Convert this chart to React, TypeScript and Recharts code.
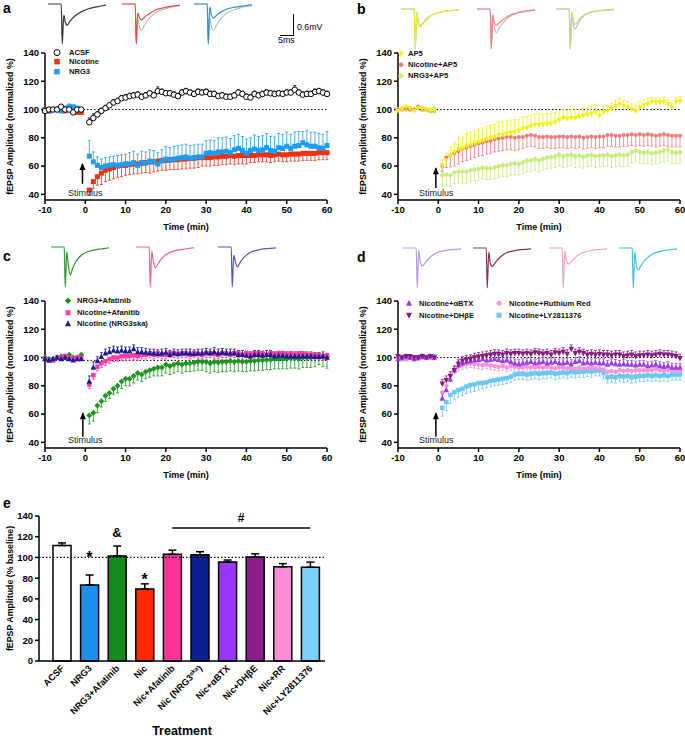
import React from 'react'
import {
  ComposedChart,
  Scatter,
  ErrorBar,
  XAxis,
  YAxis,
  ReferenceLine,
  ReferenceDot,
  BarChart,
  Bar,
  Cell,
  LineChart,
  Line,
} from 'recharts'

const FONT = '"Liberation Sans", Arial, Helvetica, sans-serif'

// sweep times (min): 10 baseline sweeps, then 60 after the stimulus
const TIMES = [
  -10, -9, -8, -7, -6, -5, -4, -3, -2, -1,
  1, 2, 3, 4, 5, 6, 7, 8, 9, 10,
  11, 12, 13, 14, 15, 16, 17, 18, 19, 20,
  21, 22, 23, 24, 25, 26, 27, 28, 29, 30,
  31, 32, 33, 34, 35, 36, 37, 38, 39, 40,
  41, 42, 43, 44, 45, 46, 47, 48, 49, 50,
  51, 52, 53, 54, 55, 56, 57, 58, 59, 60,
]
const TIME_TICKS = [-10, 0, 10, 20, 30, 40, 50, 60]
const AMP_TICKS = [40, 60, 80, 100, 120, 140]

// ---- panel a
const ACSF_Y = [
  99, 100, 100, 100, 102, 100, 100, 98, 100, 100,
  91, 94, 96.5, 99, 101, 103, 105, 106, 108, 108.5,
  109.5, 110, 110.5, 109, 110, 111.5, 110, 113, 112.5, 111.5,
  111.5, 110.5, 109.5, 112, 113, 112, 111, 112.5, 112, 112.5,
  111, 111, 109.5, 110, 109, 109, 110, 112, 111, 109,
  108.5, 111, 110, 111, 112, 111.5, 111, 111.5, 111, 112,
  112, 114, 112, 110.5, 111, 111, 112.5, 113, 112, 111,
]
const ACSF_E = [
  1, 1, 1, 1, 1, 1, 1, 1, 1, 1,
  3, 3, 2, 2, 2, 2, 2, 2, 2, 2,
  2, 2, 2, 2, 2, 2, 2, 3, 2, 2,
  2, 2, 2, 2, 2, 2, 2, 2, 2, 2,
  2, 2, 2, 2, 2, 2, 2, 2, 2, 2,
  2, 2, 2, 2, 2, 2, 2, 2, 2, 2,
  2, 3, 2, 2, 2, 2, 2, 2, 2, 2,
]
const NIC_Y = [
  100, 99, 100, 100, 100, 99, 100, 99, 98, 98,
  43, 49, 52.5, 55, 57, 58, 59, 60, 60.5, 60.5,
  61, 61.5, 61.5, 62, 62.5, 63, 63, 63.5, 64, 64,
  64.5, 64.5, 64.5, 65, 65, 65.5, 65.5, 66, 66, 66,
  66, 66.5, 66.5, 67, 67, 67.5, 67, 67.5, 67.5, 67.5,
  67.5, 67.5, 68, 68, 68, 67.5, 68, 68.5, 68, 68,
  68.5, 68.5, 68.5, 69, 69, 69, 69, 69.5, 69.5, 69.5,
]
const NIC_E = [
  1, 1, 1, 1, 1, 1, 1, 1, 1, 1,
  3, 5, 6, 8, 8, 8, 8, 8, 8, 7,
  7, 7, 7, 7, 7, 8, 7, 7, 7, 7,
  7, 7, 7, 7, 7, 7, 7, 7, 6, 6,
  6, 6, 6, 6, 6, 6, 6, 6, 6, 6,
  5, 5, 5, 5, 5, 5, 5, 5, 5, 5,
  5, 5, 5, 5, 5, 5, 5, 5, 5, 5,
]
const NRG3_Y = [
  99, 99, 100, 100, 99, 101, 102, 102, 101, 100,
  67, 63, 60.5, 59, 60, 60.5, 61, 60.5, 61, 61.5,
  61.5, 62.5, 60.5, 62.5, 62, 63.5, 63, 61.5, 63.5, 65,
  64, 65, 65.5, 66, 66.5, 65.5, 66, 66.5, 66.5, 69,
  69.5, 69, 70, 70, 70.5, 69.5, 71.5, 72.5, 71, 69,
  71, 72, 71, 71.5, 73, 71, 70.5, 73, 72.5, 74,
  72.5, 74, 74.5, 76.5, 75, 74, 74, 73, 72.5, 74.5,
]
const NRG3_E = [
  1, 1, 1, 2, 1, 1, 2, 1, 1, 1,
  11, 7, 6, 6, 6, 6, 6, 7, 7, 7,
  8, 8, 8, 8, 8, 8, 8, 8, 8, 9,
  9, 9, 9, 9, 9, 9, 9, 9, 9, 9,
  9, 9, 10, 10, 10, 10, 10, 10, 10, 10,
  9, 10, 10, 10, 10, 10, 10, 10, 10, 10,
  10, 10, 10, 8, 10, 10, 10, 10, 10, 10,
]

// ---- panel b
const AP5_Y = [
  99, 100, 102, 101, 99, 101, 101, 100, 99, 99,
  60.5, 64, 67.5, 70, 72, 72.5, 74, 75, 76, 77,
  78, 79, 80, 80.5, 82, 82, 83, 83.5, 84, 85,
  86.5, 87, 88, 89, 89, 89.5, 90, 90, 91, 92.5,
  94, 93.5, 94, 94, 95, 96, 96.5, 97, 98, 95.5,
  98, 99, 100.5, 102.5, 104, 102.5, 101.5, 100, 99, 101.5,
  103, 104, 105.5, 105, 105, 105.5, 104, 101.5, 105.5, 106,
]
const AP5_E = [
  1, 1, 1, 1, 1, 1, 1, 1, 1, 1,
  4, 5, 6, 7, 8, 8, 9, 9, 9, 9,
  9, 9, 9, 9, 9, 9, 9, 9, 9, 8,
  8, 8, 8, 8, 8, 7, 7, 7, 7, 6,
  6, 6, 6, 6, 5, 5, 5, 5, 5, 4,
  4, 4, 4, 4, 4, 4, 4, 4, 4, 4,
  4, 4, 3, 3, 3, 3, 3, 3, 3, 3,
]
const NICAP5_Y = [
  100, 100, 101, 100, 100, 102, 100, 100, 99, 99,
  60, 66, 67.5, 69, 70.5, 72, 73, 74, 75, 76,
  76.5, 77.5, 78, 79, 79.5, 80, 80.5, 80.5, 80, 80.5,
  80.5, 81.5, 82, 81.5, 80.5, 80.5, 81, 80.5, 80.5, 81,
  81, 80.5, 81, 80.5, 81, 80, 80.5, 81, 80.5, 81,
  81, 82, 82, 81.5, 81.5, 82, 82, 82.5, 82, 82.5,
  82, 82.5, 82, 81.5, 82, 82.5, 82, 81.5, 81.5, 81.5,
]
const NICAP5_E = [
  1, 1, 1, 1, 1, 1, 1, 1, 1, 1,
  4, 7, 8, 9, 9, 9, 9, 9, 9, 9,
  9, 9, 9, 9, 9, 9, 9, 9, 9, 9,
  8, 8, 8, 8, 8, 8, 8, 8, 8, 8,
  8, 8, 8, 8, 8, 8, 8, 8, 8, 8,
  8, 8, 8, 8, 8, 8, 8, 8, 8, 8,
  8, 8, 8, 8, 8, 8, 8, 8, 8, 8,
]
const NRGAP5_Y = [
  100, 101, 100, 101, 100, 102, 101, 100, 100, 101,
  53.5, 54, 53.5, 55.5, 56, 56, 56, 57, 57.5, 58,
  59, 58.5, 58.5, 59, 60, 60.5, 60.5, 61.5, 62, 61.5,
  62.5, 64, 64, 65, 64, 65, 66, 66.5, 67, 68,
  67, 67.5, 68, 67, 67.5, 66.5, 67.5, 68, 67, 67.5,
  67.5, 68, 67, 67.5, 68, 67.5, 68, 70, 71, 70,
  69.5, 70, 69, 69.5, 70, 71, 71.5, 70, 69.5, 70,
]
const NRGAP5_E = [
  1, 1, 1, 1, 1, 1, 1, 1, 1, 1,
  8, 8, 8, 8, 8, 8, 8, 8, 8, 8,
  8, 8, 8, 8, 8, 8, 8, 8, 8, 8,
  8, 8, 8, 8, 8, 8, 8, 8, 8, 8,
  8, 8, 8, 8, 8, 8, 8, 8, 8, 8,
  8, 8, 8, 8, 8, 8, 8, 8, 8, 8,
  8, 8, 8, 8, 8, 8, 8, 8, 8, 8,
]

// ---- panel c
const NRGAF_Y = [
  100, 99, 99, 100, 101, 100, 102, 100, 100, 102,
  59, 61, 66, 69, 73, 75, 78, 80, 83, 85,
  85, 87, 89, 88, 90, 91, 92, 93, 93, 95,
  94, 95, 96, 95, 96, 96, 96.5, 97, 97, 97,
  96, 97, 96.5, 97, 97, 97.5, 97, 97.5, 97, 97,
  97.5, 97.5, 98, 98, 98.5, 98.5, 99, 99, 99, 99,
  99.5, 99.5, 99, 100, 100, 100, 100.5, 102, 100.5, 100.5,
]
const NRGAF_E = [
  1, 1, 1, 1, 1, 1, 1, 1, 1, 1,
  6, 6, 5, 4, 4, 4, 4, 5, 5, 5,
  5, 5, 5, 5, 5, 5, 5, 6, 6, 6,
  6, 6, 6, 6, 6, 6, 6, 6, 6, 7,
  7, 7, 7, 7, 7, 7, 7, 7, 7, 7,
  7, 7, 7, 7, 7, 7, 7, 7, 7, 7,
  7, 7, 7, 7, 7, 7, 7, 7, 7, 8,
]
const NICAF_Y = [
  99, 98, 98, 100, 100, 101, 100, 99, 100, 100,
  81, 87.5, 93.5, 96, 97.5, 99, 100, 100, 101, 101,
  101, 101.5, 101, 102, 102, 103, 102, 103, 102, 102,
  103, 103, 102.5, 103, 103, 102, 103, 102.5, 102, 103,
  103, 102.5, 102, 103, 103, 102, 103, 103, 102, 103,
  102.5, 103, 103, 103, 102, 103, 102.5, 103, 103, 102,
  103, 102, 103, 103, 102, 102, 102, 101.5, 101, 101.5,
]
const NICAF_E = [
  1, 1, 1, 1, 1, 1, 1, 1, 1, 1,
  3, 3, 3, 3, 3, 3, 3, 3, 3, 3,
  3, 3, 3, 3, 3, 3, 3, 3, 3, 3,
  3, 3, 3, 3, 3, 3, 3, 3, 3, 3,
  3, 3, 3, 3, 3, 3, 3, 3, 3, 3,
  3, 3, 3, 3, 3, 3, 3, 3, 3, 3,
  3, 3, 3, 3, 3, 3, 3, 3, 3, 3,
]
const NICSKA_Y = [
  99, 98, 99, 100, 99, 100, 99, 98, 99, 99,
  83, 93, 97.5, 100.5, 103, 104, 105, 104.5, 105, 104.5,
  104.5, 106, 104, 104, 103.5, 103, 103, 102.5, 103, 103.5,
  102, 103, 102.5, 103, 103, 103, 102.5, 103, 103, 103.5,
  103, 104, 103, 103.5, 103, 103, 103, 102, 102, 101.5,
  101, 102, 102, 101.5, 102, 102, 101, 101.5, 101.5, 101,
  101, 101, 101, 101, 101, 101, 100.5, 100.5, 101, 100,
]
const NICSKA_E = [
  1, 1, 1, 1, 1, 1, 1, 1, 1, 1,
  4, 4, 3, 3, 3, 3, 3, 3, 3, 3,
  3, 3, 3, 3, 3, 3, 3, 3, 3, 3,
  3, 3, 3, 3, 3, 3, 3, 3, 3, 3,
  3, 3, 3, 3, 3, 3, 3, 3, 3, 3,
  3, 3, 3, 3, 3, 3, 3, 3, 3, 3,
  3, 3, 3, 3, 3, 3, 3, 3, 3, 3,
]

// ---- panel d
const ABTX_Y = [
  99, 100, 101, 100, 99, 100, 101, 100, 101, 100,
  71, 77, 84.5, 91, 94.5, 96, 97, 97.5, 98, 98.5,
  99, 98, 98.5, 99, 98.5, 97.5, 98, 97, 96, 95.5,
  96, 96.5, 97, 96, 96.5, 97, 96, 96.5, 97, 96,
  96, 96.5, 95.5, 97, 97.5, 96, 96.5, 96, 96.5, 96,
  96, 95, 96, 95.5, 95, 95.5, 95, 95, 94.5, 95,
  95, 94, 94.5, 95, 94, 93.5, 94, 93, 93, 93,
]
const ABTX_E = [
  1, 1, 1, 1, 1, 1, 1, 1, 1, 1,
  3, 3, 3, 3, 3, 3, 3, 3, 3, 3,
  3, 3, 3, 3, 3, 3, 3, 3, 3, 3,
  3, 3, 3, 3, 3, 3, 3, 3, 3, 3,
  3, 3, 3, 3, 3, 3, 3, 3, 3, 3,
  3, 3, 3, 3, 3, 3, 3, 3, 3, 3,
  3, 3, 3, 3, 3, 3, 3, 3, 3, 3,
]
const DHBE_Y = [
  101, 100, 101, 101, 100, 100, 101, 100, 101, 100,
  81.5, 84, 87, 91, 95.5, 97.5, 98.5, 99, 100, 100.5,
  101, 101.5, 102, 102.5, 102.5, 102, 103, 102.5, 103, 103,
  102.5, 103, 102.5, 103.5, 103, 102.5, 103, 102, 103.5, 103,
  104, 102.5, 106, 103, 104, 103, 102, 102.5, 102, 102.5,
  102, 102, 101.5, 102, 102, 101, 101.5, 102, 101, 101.5,
  101.5, 102, 101.5, 102, 102.5, 102, 102, 101.5, 101, 99.5,
]
const DHBE_E = [
  1, 1, 1, 1, 1, 1, 1, 1, 1, 1,
  3, 3, 3, 3, 3, 3, 3, 3, 3, 3,
  3, 3, 3, 3, 3, 3, 3, 3, 3, 3,
  3, 3, 3, 3, 3, 3, 3, 3, 3, 3,
  3, 3, 3, 3, 3, 3, 3, 3, 3, 3,
  3, 3, 3, 3, 3, 3, 3, 3, 3, 3,
  3, 3, 3, 3, 3, 3, 3, 3, 3, 3,
]
const RR_Y = [
  100, 100, 99, 100, 100, 99, 100, 100, 100, 100,
  75.5, 80, 87.5, 91.5, 93.5, 94.5, 95.5, 96, 95.5, 95,
  94.5, 95, 94.5, 94, 93.5, 94, 93, 94, 93.5, 93,
  93, 93.5, 93, 93, 93.5, 93, 93.5, 93, 92.5, 93,
  93, 92.5, 93, 92, 93, 92, 92.5, 93, 92.5, 92.5,
  91.5, 90, 90.5, 90, 91, 90.5, 91, 90.5, 91, 91,
  91, 91, 91, 92, 91, 90.5, 91, 91, 91, 91,
]
const RR_E = [
  1, 1, 1, 1, 1, 1, 1, 1, 1, 1,
  3, 3, 3, 3, 3, 3, 3, 3, 3, 3,
  3, 3, 3, 3, 3, 3, 3, 3, 3, 3,
  3, 3, 3, 3, 3, 3, 3, 3, 3, 3,
  3, 3, 3, 3, 3, 3, 3, 3, 3, 3,
  3, 3, 3, 3, 3, 3, 3, 3, 3, 3,
  3, 3, 3, 3, 3, 3, 3, 3, 3, 3,
]
const LY_Y = [
  100, 99, 99, 100, 100, 100, 101, 100, 100, 101,
  64.5, 68.5, 73.5, 75.5, 77, 78, 79.5, 80.5, 81, 82,
  82, 82.5, 83.5, 84, 84.5, 85, 85.5, 86.5, 88, 88.5,
  88.5, 88, 88.5, 89, 88.5, 89, 89, 89.5, 88.5, 89,
  89.5, 89, 90, 89.5, 90, 90, 90.5, 90, 91, 91,
  89, 86, 86.5, 86, 87, 86.5, 87, 86, 86.5, 87,
  87, 87.5, 87, 87.5, 87, 87.5, 87, 88, 88, 88,
]
const LY_E = [
  1, 1, 1, 1, 1, 1, 1, 1, 1, 1,
  6, 6, 6, 5, 5, 5, 5, 5, 5, 5,
  4, 4, 4, 4, 4, 4, 4, 4, 4, 4,
  4, 4, 4, 4, 4, 4, 4, 4, 4, 4,
  4, 4, 4, 4, 4, 4, 4, 4, 4, 4,
  4, 4, 4, 4, 4, 4, 4, 4, 4, 4,
  4, 4, 4, 4, 4, 4, 4, 4, 4, 4,
]

// ---- panel e
const TREATMENTS = [
  'ACSF', 'NRG3', 'NRG3+Afatinib', 'Nic', 'Nic+Afatinib',
  'Nic (NRG3ska)', 'Nic+αBTX', 'Nic+DHβE', 'Nic+RR', 'Nic+LY2811376',
]
const TREAT_MEAN = [111.5, 73.5, 101.5, 69.5, 103, 102.5, 95.5, 100.5, 91, 90.5]
const TREAT_SEM = [2.5, 9.5, 9.5, 5, 4, 3, 2, 3, 3, 5]
const TREAT_COLORS = [
  '#ffffff', '#1e90f0', '#138a1c', '#ff2a00', '#ff3399',
  '#0c2090', '#9a36ff', '#8c1d8c', '#ff8ad8', '#7acffc',
]
const BAR_TICKS = [0, 20, 40, 60, 80, 100, 120, 140]

// ---- example sweeps (ms-ish time base, amplitude normalised to the artefact)
const WAVE_T = [0, 13, 14, 15.5, 17, 19, 21, 24, 28, 33, 40, 48, 57]
const W_CTRL = [0, 0, -1, -0.35, -0.55, -0.66, -0.58, -0.45, -0.32, -0.22, -0.14, -0.08, -0.04]
const W_ACSF = [0, 0, -1, -0.28, -0.45, -0.53, -0.45, -0.36, -0.27, -0.19, -0.12, -0.07, -0.03]
const W_NIC = [0, 0, -1, -0.22, -0.33, -0.4, -0.36, -0.29, -0.22, -0.15, -0.1, -0.06, -0.03]
const W_NRG3 = [0, 0, -1, -0.08, -0.26, -0.35, -0.31, -0.24, -0.18, -0.12, -0.08, -0.05, -0.02]
const W_AP5 = [0, 0, -1, -0.1, -0.36, -0.45, -0.39, -0.3, -0.2, -0.12, -0.07, -0.04, -0.02]
const W_AP5_CTRL = [0, 0, -1, -0.08, -0.33, -0.42, -0.37, -0.28, -0.19, -0.12, -0.07, -0.04, -0.02]
const W_NICAP5 = [0, 0, -1, -0.14, -0.34, -0.41, -0.37, -0.3, -0.22, -0.15, -0.09, -0.05, -0.02]
const W_NICAP5_CTRL = [0, 0, -1, -0.2, -0.45, -0.6, -0.52, -0.4, -0.28, -0.18, -0.1, -0.06, -0.03]
const W_NRGAP5 = [0, 0, -1, -0.08, -0.3, -0.38, -0.32, -0.22, -0.14, -0.08, -0.05, -0.03, -0.01]
const W_NRGAP5_CTRL = [0, 0, -1, -0.1, -0.38, -0.5, -0.4, -0.26, -0.16, -0.09, -0.05, -0.03, -0.01]
const W_NRGAF = [0, 0, -1, -0.12, -0.45, -0.7, -0.55, -0.38, -0.25, -0.15, -0.09, -0.05, -0.02]
const W_NICAF = [0, 0, -1, -0.1, -0.35, -0.52, -0.45, -0.33, -0.22, -0.14, -0.08, -0.05, -0.02]
const W_NICSKA = [0, 0, -1, -0.2, -0.36, -0.5, -0.42, -0.3, -0.2, -0.12, -0.07, -0.04, -0.02]
const W_ABTX = [0, 0, -1, -0.05, -0.35, -0.45, -0.4, -0.3, -0.2, -0.12, -0.07, -0.04, -0.02]
const W_DHBE = [0, 0, -1, -0.1, -0.38, -0.46, -0.4, -0.3, -0.2, -0.12, -0.07, -0.04, -0.02]
const W_RR = [0, 0, -1, -0.08, -0.32, -0.4, -0.36, -0.28, -0.19, -0.12, -0.07, -0.04, -0.02]
const W_LY = [0, 0, -1, -0.1, -0.42, -0.55, -0.47, -0.35, -0.24, -0.15, -0.09, -0.05, -0.02]

type Kind = 'open' | 'circle' | 'square' | 'up' | 'down' | 'diamond'
type Series = {
  name: string
  ys: number[]
  errs: number[]
  up: boolean
  kind: Kind
  color: string
  size: number
}

const glyph = (kind: Kind, color: string, cx: number, cy: number, s: number) => {
  const h = s / 2
  if (kind === 'open') return <circle cx={cx} cy={cy} r={h} fill="#fff" stroke="#000" strokeWidth={1} />
  if (kind === 'circle') return <circle cx={cx} cy={cy} r={h} fill={color} />
  if (kind === 'square') return <rect x={cx - h} y={cy - h} width={s} height={s} fill={color} />
  if (kind === 'up')
    return <polygon points={`${cx},${cy - h - 1} ${cx + h + 0.5},${cy + h} ${cx - h - 0.5},${cy + h}`} fill={color} />
  if (kind === 'down')
    return <polygon points={`${cx},${cy + h + 1} ${cx + h + 0.5},${cy - h} ${cx - h - 0.5},${cy - h}`} fill={color} />
  return <polygon points={`${cx},${cy - h - 1} ${cx + h + 1},${cy} ${cx},${cy + h + 1} ${cx - h - 1},${cy}`} fill={color} />
}

const rows = (s: Series) =>
  TIMES.map((t, i) => ({ t, y: s.ys[i], e: s.up ? [0, s.errs[i]] : [s.errs[i], 0] }))

const tickStyle = { fill: '#000', fontSize: 9.5, fontWeight: 700, fontFamily: FONT }

const yTitle = (text: string) => (p: any) => {
  const vb = p.viewBox || {}
  const cy = (vb.y || 0) + (vb.height || 0) / 2
  return (
    <text
      x={10}
      y={cy}
      transform={`rotate(-90 10 ${cy})`}
      textAnchor="middle"
      dominantBaseline="central"
      fontSize={8.8}
      fontWeight={700}
      fontFamily={FONT}
      fill="#000"
    >
      {text}
    </text>
  )
}

type Arrow = { x: number; y0: number; y1: number; textX: number; textY: number }

function TimePanel({
  left,
  top,
  series,
  refY,
  arrow,
}: {
  left: number
  top: number
  series: Series[]
  refY: number
  arrow: Arrow
}) {
  return (
    <div style={{ position: 'absolute', left, top }}>
      <ComposedChart width={337} height={194} margin={{ top: 13, right: 10, bottom: 0, left: 0 }}>
        <XAxis
          dataKey="t"
          type="number"
          domain={[-10, 60]}
          ticks={TIME_TICKS}
          tickSize={4}
          stroke="#000"
          strokeWidth={1.5}
          tick={tickStyle}
          height={34}
          label={{ value: 'Time (min)', position: 'insideBottom', offset: 4, fill: '#000', fontSize: 9, fontWeight: 700, fontFamily: FONT }}
        />
        <YAxis
          dataKey="y"
          type="number"
          domain={[36, 140]}
          ticks={AMP_TICKS}
          tickSize={4}
          width={45}
          stroke="#000"
          strokeWidth={1.5}
          tick={tickStyle}
          label={yTitle('fEPSP Amplitude (normalized %)')}
        />
        <ReferenceLine y={refY} stroke="#000" strokeDasharray="1.5 2" strokeWidth={1} />
        {series.map((s) => (
          <Scatter
            key={s.name}
            name={s.name}
            data={rows(s)}
            dataKey="y"
            isAnimationActive={false}
            shape={(p: any) => glyph(s.kind, s.color, p.cx, p.cy, s.size)}
          >
            <ErrorBar dataKey="e" direction="y" width={1.5} stroke={s.color} strokeWidth={0.8} />
          </Scatter>
        ))}
        <ReferenceLine
          segment={[
            { x: arrow.x, y: arrow.y0 },
            { x: arrow.x, y: arrow.y1 },
          ]}
          stroke="#000"
          strokeWidth={1.5}
        />
        <ReferenceDot
          x={arrow.x}
          y={arrow.y1}
          r={0}
          shape={(p: any) => (
            <polygon points={`${p.cx},${p.cy - 1} ${p.cx + 3},${p.cy + 6} ${p.cx - 3},${p.cy + 6}`} fill="#000" />
          )}
        />
        <ReferenceDot
          x={arrow.textX}
          y={arrow.textY}
          r={0}
          shape={(p: any) => (
            <text x={p.cx} y={p.cy} textAnchor="middle" fontSize={9} fontFamily={FONT} fill="#222">
              Stimulus
            </text>
          )}
        />
      </ComposedChart>
    </div>
  )
}

function LegendBox({ left, top, rowH, gap, series }: { left: number; top: number; rowH: number; gap: number; series: Series[] }) {
  return (
    <div style={{ position: 'absolute', left, top, fontFamily: FONT, fontSize: 7.6, fontWeight: 700, color: '#111' }}>
      {series.map((s) => (
        <div key={s.name} style={{ height: rowH, display: 'flex', alignItems: 'center', whiteSpace: 'nowrap' }}>
          <svg width={gap} height={rowH} style={{ flex: 'none' }}>
            {glyph(s.kind, s.color, 5, rowH / 2, s.size + 0.5)}
          </svg>
          <span>{s.name}</span>
        </div>
      ))}
    </div>
  )
}

type TraceLine = { ys: number[]; color: string }

function Trace({ left, top, lines }: { left: number; top: number; lines: TraceLine[] }) {
  const data = WAVE_T.map((t, i) => {
    const r: Record<string, number> = { t }
    lines.forEach((l, j) => (r['v' + j] = l.ys[i]))
    return r
  })
  return (
    <div style={{ position: 'absolute', left, top }}>
      <LineChart width={60} height={42} data={data} margin={{ top: 1, right: 1, bottom: 1, left: 1 }}>
        <XAxis dataKey="t" type="number" domain={[0, 57]} hide />
        <YAxis type="number" domain={[-1, 0]} hide />
        {lines.map((l, j) => (
          <Line
            key={j}
            dataKey={'v' + j}
            type="monotone"
            stroke={l.color}
            strokeWidth={1.2}
            dot={false}
            isAnimationActive={false}
          />
        ))}
      </LineChart>
    </div>
  )
}

const GRAY = '#bdbdbd'

const SERIES_A: Series[] = [
  { name: 'ACSF', ys: ACSF_Y, errs: ACSF_E, up: true, kind: 'open', color: '#000', size: 5.5 },
  { name: 'Nicotine', ys: NIC_Y, errs: NIC_E, up: false, kind: 'square', color: '#f2300e', size: 5 },
  { name: 'NRG3', ys: NRG3_Y, errs: NRG3_E, up: true, kind: 'square', color: '#1f9bf0', size: 5 },
]
const SERIES_B: Series[] = [
  { name: 'AP5', ys: AP5_Y, errs: AP5_E, up: true, kind: 'down', color: '#f2f20a', size: 4 },
  { name: 'Nicotine+AP5', ys: NICAP5_Y, errs: NICAP5_E, up: false, kind: 'circle', color: '#f47a78', size: 4 },
  { name: 'NRG3+AP5', ys: NRGAP5_Y, errs: NRGAP5_E, up: false, kind: 'diamond', color: '#c6ee7a', size: 3.5 },
]
const SERIES_C: Series[] = [
  { name: 'NRG3+Afatinib', ys: NRGAF_Y, errs: NRGAF_E, up: false, kind: 'diamond', color: '#1c961c', size: 4 },
  { name: 'Nicotine+Afanitib', ys: NICAF_Y, errs: NICAF_E, up: false, kind: 'square', color: '#ff3ca0', size: 4.5 },
  { name: 'Nicotine (NRG3ska)', ys: NICSKA_Y, errs: NICSKA_E, up: true, kind: 'up', color: '#1a1a96', size: 4.5 },
]
const SERIES_D: Series[] = [
  { name: 'Nicotine+αBTX', ys: ABTX_Y, errs: ABTX_E, up: true, kind: 'up', color: '#9b3cf0', size: 4.5 },
  { name: 'Nicotine+DHβE', ys: DHBE_Y, errs: DHBE_E, up: true, kind: 'down', color: '#8a1a7e', size: 4.5 },
  { name: 'Nicotine+Ruthium Red', ys: RR_Y, errs: RR_E, up: false, kind: 'circle', color: '#f592d8', size: 4.5 },
  { name: 'Nicotine+LY2811376', ys: LY_Y, errs: LY_E, up: false, kind: 'square', color: '#6cc8f0', size: 4.5 },
]

const barData = TREATMENTS.map((name, i) => ({ name, v: TREAT_MEAN[i], e: [0, TREAT_SEM[i]] }))

const TreatTick = (p: any) => {
  const { x, y, payload } = p
  const v: string = payload.value
  const tx = x + 3
  const ty = y + 2
  return (
    <text
      x={tx}
      y={ty}
      transform={`rotate(-45 ${tx} ${ty})`}
      textAnchor="end"
      fontSize={9.2}
      fontWeight={700}
      fontFamily={FONT}
      fill="#000"
    >
      {v === 'Nic (NRG3ska)' ? (
        <>
          Nic (NRG3
          <tspan dy={-3} fontSize={6}>
            ska
          </tspan>
          <tspan dy={3}>)</tspan>
        </>
      ) : (
        v
      )}
    </text>
  )
}

const mark = (ch: string, size: number, shift: number) => (p: any) =>
  (
    <text x={p.cx} y={p.cy + shift} textAnchor="middle" fontSize={size} fontWeight={700} fontFamily={FONT} fill="#000">
      {ch}
    </text>
  )

const letter = (ch: string, left: number, top: number) => (
  <div
    style={{ position: 'absolute', left, top, fontFamily: FONT, fontSize: 14, fontWeight: 700, lineHeight: '14px' }}
  >
    {ch}
  </div>
)

export default function App() {
  return (
    <div
      style={{
        position: 'absolute',
        left: 0,
        top: 0,
        width: 685,
        height: 738,
        overflow: 'hidden',
        background: '#fff',
        fontFamily: FONT,
      }}
    >
      {letter('a', 3, 1)}
      {letter('b', 357, 2)}
      {letter('c', 3, 249)}
      {letter('d', 357, 250)}
      {letter('e', 3, 496)}

      {/* example sweeps */}
      <Trace left={47} top={3} lines={[{ ys: W_ACSF, color: '#333' }]} />
      <Trace left={121} top={3} lines={[{ ys: W_CTRL, color: GRAY }, { ys: W_NIC, color: '#ea4a40' }]} />
      <Trace left={193} top={3} lines={[{ ys: W_CTRL, color: GRAY }, { ys: W_NRG3, color: '#2a8fd8' }]} />
      <Trace left={400} top={8} lines={[{ ys: W_AP5_CTRL, color: '#a8b0d0' }, { ys: W_AP5, color: '#eeee30' }]} />
      <Trace left={476} top={8} lines={[{ ys: W_NICAP5_CTRL, color: GRAY }, { ys: W_NICAP5, color: '#f08484' }]} />
      <Trace left={555} top={8} lines={[{ ys: W_NRGAP5_CTRL, color: GRAY }, { ys: W_NRGAP5, color: '#c4dc78' }]} />
      <Trace left={50} top={246} lines={[{ ys: W_NRGAF, color: '#2a9a2a' }]} />
      <Trace left={135} top={246} lines={[{ ys: W_NICAF, color: '#f0608e' }]} />
      <Trace left={217} top={246} lines={[{ ys: W_NICSKA, color: '#5656b0' }]} />
      <Trace left={402} top={247} lines={[{ ys: W_ABTX, color: '#b59ae6' }]} />
      <Trace left={472} top={247} lines={[{ ys: W_DHBE, color: '#8e3050' }]} />
      <Trace left={548} top={247} lines={[{ ys: W_RR, color: '#f2a4c4' }]} />
      <Trace left={618} top={247} lines={[{ ys: W_LY, color: '#3ec2e2' }]} />

      {/* scale bar */}
      <div style={{ position: 'absolute', left: 293, top: 14, width: 0, height: 21, borderLeft: '1px solid #000' }} />
      <div style={{ position: 'absolute', left: 280, top: 34.5, width: 14, height: 0, borderTop: '1px solid #000' }} />
      <div style={{ position: 'absolute', left: 297, top: 22, fontSize: 8.8, lineHeight: '10px' }}>0.6mV</div>
      <div style={{ position: 'absolute', left: 278, top: 35, fontSize: 8.8, lineHeight: '10px' }}>5ms</div>

      <TimePanel left={0} top={40} series={[SERIES_A[1], SERIES_A[2], SERIES_A[0]]} refY={100}
        arrow={{ x: -0.7, y0: 47.5, y1: 61.5, textX: 0, textY: 38.6 }} />
      <TimePanel left={353} top={40} series={[SERIES_B[2], SERIES_B[1], SERIES_B[0]]} refY={100}
        arrow={{ x: -0.6, y0: 44.5, y1: 58.5, textX: -0.5, textY: 38.6 }} />
      <TimePanel left={0} top={288} series={[SERIES_C[0], SERIES_C[1], SERIES_C[2]]} refY={98}
        arrow={{ x: -0.6, y0: 44, y1: 60.5, textX: 0, textY: 39.5 }} />
      <TimePanel left={353} top={288} series={[SERIES_D[3], SERIES_D[2], SERIES_D[0], SERIES_D[1]]} refY={100}
        arrow={{ x: -0.6, y0: 44, y1: 60.5, textX: -0.5, textY: 39.5 }} />

      <LegendBox left={52} top={48} rowH={9.3} gap={17} series={SERIES_A} />
      <LegendBox left={396} top={47.5} rowH={11.4} gap={12} series={SERIES_B} />
      <LegendBox left={63} top={295} rowH={11.5} gap={14} series={SERIES_C} />
      <LegendBox left={404} top={297} rowH={12.4} gap={15} series={SERIES_D.slice(0, 2)} />
      <LegendBox left={494} top={297} rowH={12.4} gap={15} series={SERIES_D.slice(2)} />

      <div style={{ position: 'absolute', left: 0, top: 503 }}>
        <BarChart width={335} height={235} data={barData} margin={{ top: 13, right: 10, bottom: 0, left: 0 }}>
          <XAxis
            dataKey="name"
            type="category"
            interval={0}
            padding={{ left: 9, right: 1 }}
            tickLine={false}
            tickSize={4}
            stroke="#000"
            strokeWidth={1.5}
            tick={TreatTick}
            height={77}
            label={{ value: 'Treatment', position: 'insideBottom', offset: 3, fill: '#000', fontSize: 12.5, fontWeight: 700, fontFamily: FONT }}
          />
          <YAxis
            type="number"
            domain={[0, 140]}
            ticks={BAR_TICKS}
            tickSize={4}
            width={39}
            stroke="#000"
            strokeWidth={1.5}
            tick={tickStyle}
            label={yTitle('fEPSP Amplitude (% baseline)')}
          />
          <Bar dataKey="v" barSize={18} stroke="#000" strokeWidth={1.5} isAnimationActive={false}>
            {barData.map((d, i) => (
              <Cell key={d.name} fill={TREAT_COLORS[i]} />
            ))}
            <ErrorBar dataKey="e" direction="y" width={4} stroke="#000" strokeWidth={1.5} />
          </Bar>
          <ReferenceLine y={100} stroke="#000" strokeDasharray="1.5 2" strokeWidth={1.2} />
          <ReferenceLine
            segment={[
              { x: 'Nic+Afatinib', y: 128.5 },
              { x: 'Nic+LY2811376', y: 128.5 },
            ]}
            stroke="#444"
            strokeWidth={2}
            label={{ value: '#', position: 'top', offset: 6, fill: '#000', fontSize: 12, fontWeight: 700, fontFamily: FONT }}
          />
          <ReferenceDot x="NRG3" y={104} r={0} shape={mark('*', 16, 10)} />
          <ReferenceDot x="NRG3+Afatinib" y={124.5} r={0} shape={mark('&', 13, 5)} />
          <ReferenceDot x="Nic" y={83} r={0} shape={mark('*', 16, 10)} />
        </BarChart>
      </div>
    </div>
  )
}
